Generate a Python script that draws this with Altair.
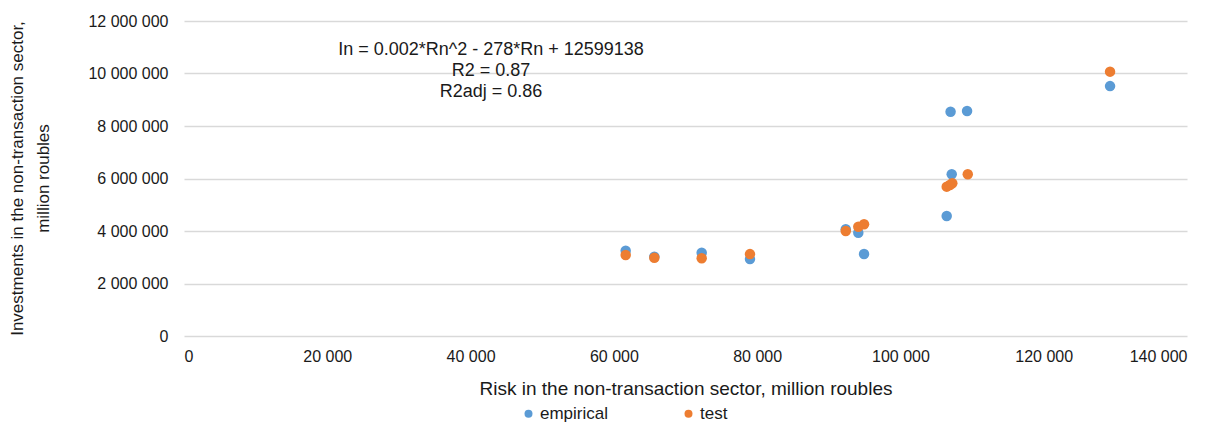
import altair as alt
import pandas as pd

# Empirical series (risk, investments), million roubles
x_emp = [61650, 65650, 72260, 79000, 92370, 94120, 94920, 106460, 107000, 107160, 109300, 129260]
y_emp = [3250000, 3020000, 3170000, 2930000, 4065000, 3935000, 3124000, 4570000, 8545000, 6160000, 8570000, 9520000]

# Test (model) series
x_test = [61650, 65650, 72260, 79000, 92370, 94120, 94920, 106460, 106900, 107240, 109400, 129260]
y_test = [3086000, 2980000, 2960000, 3120000, 4000000, 4164000, 4255000, 5690000, 5750000, 5820000, 6160000, 10070000]

series_names = ["empirical", "test"]
x_ticks = [0, 20000, 40000, 60000, 80000, 100000, 120000, 140000]
y_ticks = [0, 2000000, 4000000, 6000000, 8000000, 10000000, 12000000]
annotation = "In = 0.002*Rn^2 - 278*Rn + 12599138\nR2 = 0.87\nR2adj = 0.86"

rows = []
for xv, yv in zip(x_emp, y_emp):
    rows.append({"series": series_names[0], "x": xv, "y": yv})
for xv, yv in zip(x_test, y_test):
    rows.append({"series": series_names[1], "x": xv, "y": yv})
df = pd.DataFrame(rows)

FONT = "Liberation Sans"
TXT = "#1a1a1a"
label_expr = "replace(format(datum.value, ','), regexp(',', 'g'), ' ')"

points = alt.Chart(df).mark_circle(size=110, opacity=1).encode(
    x=alt.X("x:Q",
            scale=alt.Scale(domain=[0, 140000], nice=False),
            axis=alt.Axis(values=x_ticks, labelExpr=label_expr, grid=False,
                          ticks=False, domain=False, labelPadding=12,
                          title="Risk in the non-transaction sector, million roubles",
                          titleFontSize=19, titlePadding=15)),
    y=alt.Y("y:Q",
            scale=alt.Scale(domain=[0, 12000000], nice=False),
            axis=alt.Axis(values=y_ticks, labelExpr=label_expr, grid=True,
                          gridColor="#d9d9d9", gridWidth=1.3,
                          ticks=False, domain=False, labelPadding=16,
                          title=["Investments in the non-transaction sector,", "million roubles"],
                          titleFontSize=17,
                          titleX=-167, titleY=157, titleBaseline="middle",
                          titleLineHeight=26)),
    color=alt.Color("series:N",
                    scale=alt.Scale(domain=series_names, range=["#5B9BD5", "#ED7D31"]),
                    legend=alt.Legend(title=None, orient="none", direction="horizontal",
                                      legendX=336, legendY=384, symbolType="circle",
                                      symbolSize=64, columnPadding=71, labelOffset=3,
                                      labelFontSize=17, padding=0)),
)

text = alt.Chart(pd.DataFrame({"t": [annotation]})).mark_text(
    align="center", baseline="middle", lineBreak="\n", lineHeight=21,
    font=FONT, fontSize=18, color=TXT
).encode(
    text="t:N",
    x=alt.value(307),
    y=alt.value(29),
)

chart = alt.layer(points, text).properties(
    width=1003, height=315,
    autosize=alt.AutoSizeParams(type="none"),
    padding={"left": 176, "top": 13, "right": 36, "bottom": 86},
).configure_view(stroke=None).configure_axis(
    labelFont=FONT, titleFont=FONT, labelFontSize=16,
    labelColor=TXT, titleColor=TXT, titleFontWeight="normal"
).configure_legend(
    labelFont=FONT, labelColor=TXT
)

chart.save("out.html", embed_options={"renderer": "svg", "actions": False})
